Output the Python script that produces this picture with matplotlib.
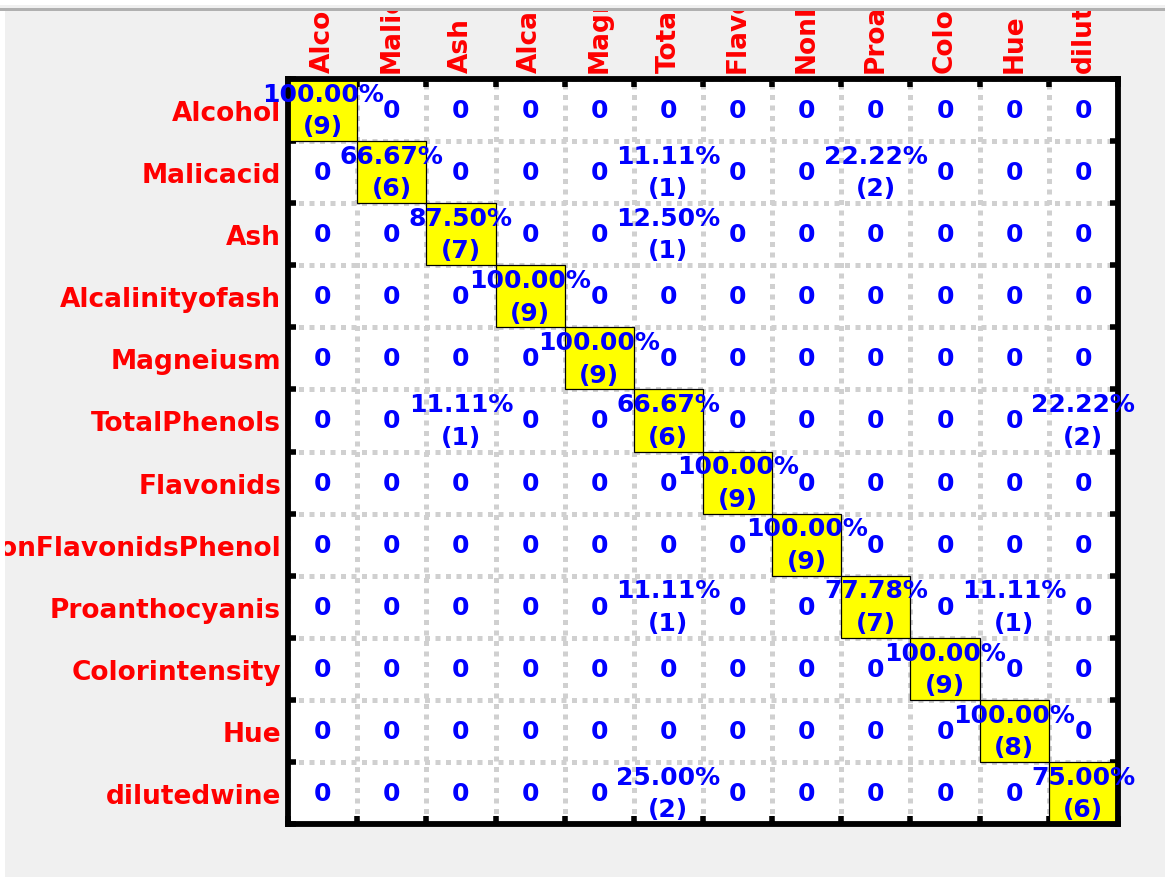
import numpy as np
import matplotlib
matplotlib.use("Agg")
import matplotlib.pyplot as plt
from matplotlib.patches import Rectangle
from matplotlib.transforms import Bbox, TransformedBbox

# class names (rows = true, columns = predicted)
labels = ['Alcohol', 'Malicacid', 'Ash', 'Alcalinityofash', 'Magneiusm',
          'TotalPhenols', 'Flavonids', 'NonFlavonidsPhenol', 'Proanthocyanis',
          'Colorintensity', 'Hue', 'dilutedwine']

# diagonal counts and the off-diagonal misclassifications (row, col, count)
diag_counts = [9, 6, 7, 9, 9, 6, 9, 9, 7, 9, 8, 6]
off_rows = [1, 1, 2, 5, 5, 8, 8, 11]
off_cols = [5, 8, 5, 2, 11, 5, 10, 5]
off_counts = [1, 2, 1, 1, 2, 1, 1, 2]

n = len(labels)
cm = np.diag(diag_counts)
for r, c, v in zip(off_rows, off_cols, off_counts):
    cm[r, c] = v
row_tot = cm.sum(axis=1)

W, H = 1165, 878
fig = plt.figure(figsize=(W / 100, H / 100), dpi=100, facecolor='#f0f0f0')
ax = fig.add_axes([288 / W, 1 - 825 / H, (1118 - 288) / W, (825 - 80) / H])
ax.set_facecolor('white')
ax.set_xlim(0, n)
ax.set_ylim(n, 0)
ax.set_axisbelow(True)

# yellow boxes on the diagonal
for i in range(n):
    ax.add_patch(Rectangle((i, i), 1, 1, facecolor='#ffff00',
                           edgecolor='black', linewidth=0.9, zorder=1))

# cell text
for i in range(n):
    for j in range(n):
        v = cm[i, j]
        if v == 0:
            s = '0'
        else:
            s = '%.2f%%\n(%d)' % (100.0 * v / row_tot[i], v)
        ax.text(j + 0.5, i + 0.5, s, ha='center', va='center', color='#0000ff',
                fontsize=18, fontweight='bold', family='DejaVu Sans',
                linespacing=1.45, zorder=3)

# boundaries as major ticks, names as minor ticks
bounds = np.arange(n + 1)
centers = np.arange(n) + 0.5
ax.set_xticks(bounds)
ax.set_yticks(bounds)
ax.set_xticks(centers, minor=True)
ax.set_yticks(centers, minor=True)
ax.set_xticklabels(labels, minor=True, rotation=90, color='#ff0000',
                   fontsize=19, fontweight='bold')
ax.set_yticklabels(labels, minor=True, color='#ff0000',
                   fontsize=19, fontweight='bold')
ax.tick_params(which='major', direction='in', length=6, width=4,
               top=True, bottom=True, left=True, right=True,
               labeltop=False, labelbottom=False, labelleft=False)
ax.tick_params(which='minor', length=0, pad=5,
               top=True, bottom=False, labeltop=True, labelbottom=False,
               labelleft=True)
ax.grid(True, which='major', color='#d0d0d0', linewidth=3.6,
        linestyle=(0, (1, 1.1)))
for sp in ax.spines.values():
    sp.set_linewidth(4.2)

# column names are cut off at the top of the window
clip = TransformedBbox(Bbox.from_extents(0, 0, 1, 1 - 12 / H), fig.transFigure)
for t in ax.get_xticklabels(minor=True):
    t.set_clip_box(clip)
    t.set_clip_on(True)

# window edges
fig.add_artist(Rectangle((0, 1 - 6 / H), 1, 6 / H, transform=fig.transFigure,
                         facecolor='white', edgecolor='none', zorder=10))
fig.add_artist(Rectangle((0, 1 - 12 / H), 1, 3 / H, transform=fig.transFigure,
                         facecolor='#b0b0b0', edgecolor='none', zorder=10))
fig.add_artist(Rectangle((0, 0), 5 / W, 1 - 12 / H, transform=fig.transFigure,
                         facecolor='white', edgecolor='none', zorder=10))

fig.savefig('out.png', dpi=100, facecolor=fig.get_facecolor())
